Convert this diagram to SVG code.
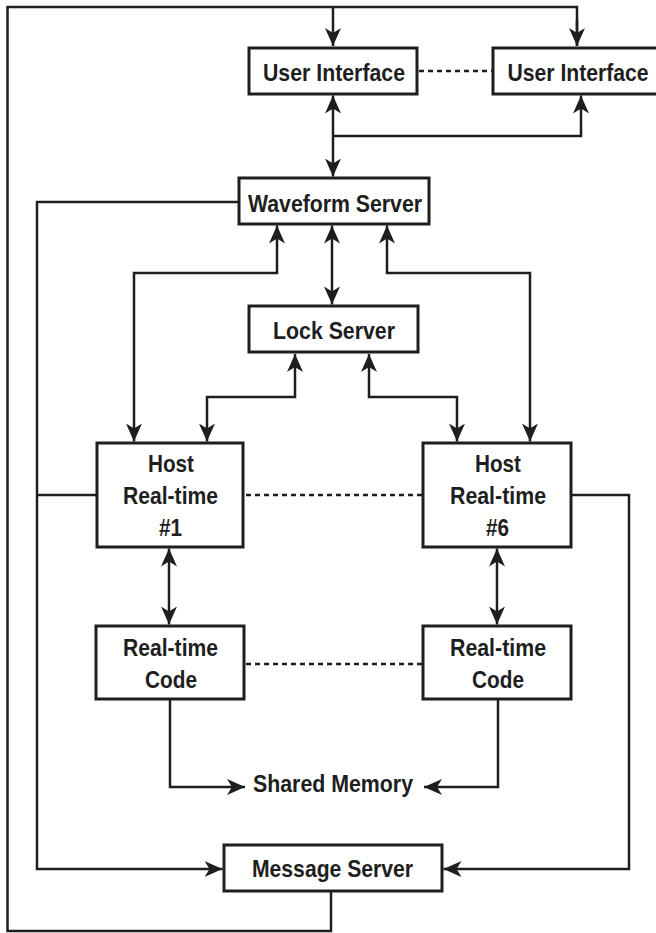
<svg xmlns="http://www.w3.org/2000/svg" width="656" height="933" viewBox="0 0 656 933">
  <style>
    .box { fill: #ffffff; stroke: #1e1e1e; stroke-width: 3; }
    .lbl { font-family: "Liberation Sans", Arial, sans-serif; font-weight: bold; font-size: 24px; fill: #1e1e1e; text-anchor: middle; }
    .wire { fill: none; stroke: #1e1e1e; stroke-width: 2.5; }
    .arr { marker-end: url(#head); }
    .arr2 { marker-start: url(#head); marker-end: url(#head); }
    .dash { fill: none; stroke: #1e1e1e; stroke-width: 2.5; stroke-dasharray: 5 4; }
  </style>
  <defs>
    <marker id="head" markerUnits="userSpaceOnUse" markerWidth="20" markerHeight="18" viewBox="0 0 20 18" refX="18" refY="9" orient="auto-start-reverse">
      <path d="M0,1 L18,9 L0,17 L5,9 z" fill="#1e1e1e"/>
    </marker>
  </defs>
  <rect width="656" height="933" fill="#ffffff"/>

  <!-- connectors -->
  <g id="connectors">
    <!-- message server feedback loop to both user interfaces -->
    <path class="wire" d="M331,892 V931 H7.5 V7 H577 V46"/>
    <path class="wire arr" d="M577,20 V46"/>
    <path class="wire arr" d="M333,7 V46"/>
    <!-- user interface / waveform server -->
    <path class="wire arr2" d="M333,95.5 V176.5"/>
    <path class="wire arr" d="M333,136 H581 V95.5"/>
    <!-- waveform server to message server -->
    <path class="wire arr" d="M239,202 H37 V869 H222.5"/>
    <path class="wire" d="M97,495 H37"/>
    <!-- waveform server to hosts and lock server -->
    <path class="wire arr2" d="M277,225.5 V273 H134 V441.5"/>
    <path class="wire arr2" d="M387,225.5 V273 H530 V441.5"/>
    <path class="wire arr2" d="M332,225.5 V304.5"/>
    <!-- lock server to hosts -->
    <path class="wire arr2" d="M295,354 V397 H207 V441.5"/>
    <path class="wire arr2" d="M369,354 V397 H457 V441.5"/>
    <!-- host #6 to message server -->
    <path class="wire arr" d="M571,495 H629 V869 H443.5"/>
    <!-- hosts to real-time code -->
    <path class="wire arr2" d="M169,548.5 V624.5"/>
    <path class="wire arr2" d="M497,548.5 V624.5"/>
    <!-- real-time code to shared memory -->
    <path class="wire arr" d="M170,700 V787 H245"/>
    <path class="wire arr" d="M498,700 V787 H424"/>
    <!-- dotted peer links -->
    <path class="dash" d="M419,71 H492"/>
    <path class="dash" d="M246,495 H422"/>
    <path class="dash" d="M246,664 H422"/>
  </g>

  <g id="ui1">
    <rect class="box" x="249" y="48" width="168" height="46"/>
    <text class="lbl" x="334" y="80.5" textLength="142" lengthAdjust="spacingAndGlyphs">User Interface</text>
  </g>
  <g id="ui2">
    <rect class="box" x="493" y="48" width="165" height="46"/>
    <text class="lbl" x="578" y="80.5" textLength="141" lengthAdjust="spacingAndGlyphs">User Interface</text>
  </g>
  <g id="waveform-server">
    <rect class="box" x="239" y="178" width="190" height="46"/>
    <text class="lbl" x="335" y="211.5" textLength="174" lengthAdjust="spacingAndGlyphs">Waveform Server</text>
  </g>
  <g id="lock-server">
    <rect class="box" x="249" y="306" width="169" height="46"/>
    <text class="lbl" x="334" y="338.5" textLength="122" lengthAdjust="spacingAndGlyphs">Lock Server</text>
  </g>
  <g id="host1">
    <rect class="box" x="97" y="443" width="146" height="104"/>
    <text class="lbl" x="171" y="472" textLength="46" lengthAdjust="spacingAndGlyphs">Host</text>
    <text class="lbl" x="170.5" y="504" textLength="95" lengthAdjust="spacingAndGlyphs">Real-time</text>
    <text class="lbl" x="170.5" y="536" textLength="23" lengthAdjust="spacingAndGlyphs">#1</text>
  </g>
  <g id="host6">
    <rect class="box" x="423" y="443" width="148" height="104"/>
    <text class="lbl" x="498" y="472" textLength="46" lengthAdjust="spacingAndGlyphs">Host</text>
    <text class="lbl" x="498" y="504" textLength="96" lengthAdjust="spacingAndGlyphs">Real-time</text>
    <text class="lbl" x="497.5" y="536" textLength="23" lengthAdjust="spacingAndGlyphs">#6</text>
  </g>
  <g id="rtcode1">
    <rect class="box" x="96" y="626" width="148" height="73"/>
    <text class="lbl" x="170.5" y="656" textLength="95" lengthAdjust="spacingAndGlyphs">Real-time</text>
    <text class="lbl" x="171" y="688" textLength="52" lengthAdjust="spacingAndGlyphs">Code</text>
  </g>
  <g id="rtcode6">
    <rect class="box" x="423" y="626" width="148" height="73"/>
    <text class="lbl" x="498" y="656" textLength="96" lengthAdjust="spacingAndGlyphs">Real-time</text>
    <text class="lbl" x="498" y="688" textLength="52" lengthAdjust="spacingAndGlyphs">Code</text>
  </g>
  <g id="shared-memory">
    <text class="lbl" x="333" y="792" textLength="160" lengthAdjust="spacingAndGlyphs">Shared Memory</text>
  </g>
  <g id="message-server">
    <rect class="box" x="224" y="845" width="218" height="46"/>
    <text class="lbl" x="332.5" y="877" textLength="161" lengthAdjust="spacingAndGlyphs">Message Server</text>
  </g>
</svg>
